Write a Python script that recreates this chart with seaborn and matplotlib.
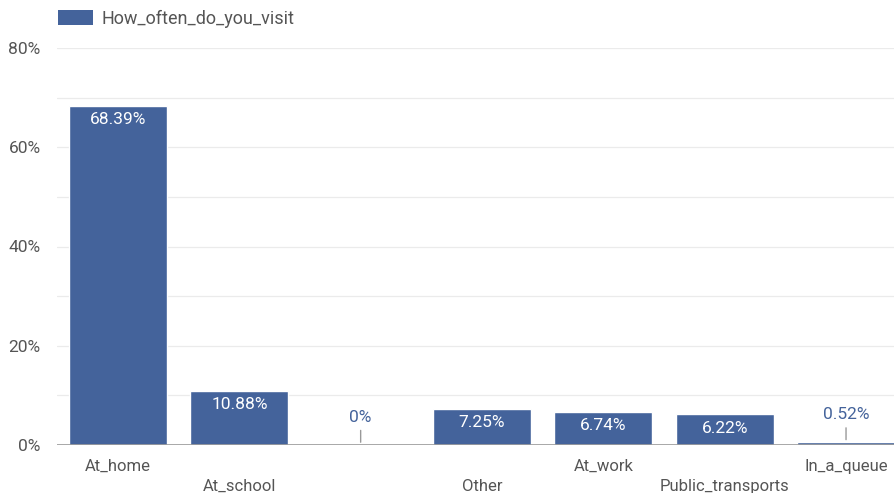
import matplotlib
matplotlib.use("Agg")
import matplotlib.pyplot as plt
import seaborn as sns
import pandas as pd
from matplotlib.patches import Patch

categories = ["At_home", "At_school", "", "Other", "At_work", "Public_transports", "In_a_queue"]
values = [68.39, 10.88, 0.0, 7.25, 6.74, 6.22, 0.52]
value_labels = ["68.39%", "10.88%", "0%", "7.25%", "6.74%", "6.22%", "0.52%"]
series_name = "How_often_do_you_visit"
yticks = [0, 20, 40, 60, 80]

sns.set_theme(style="white")
plt.rcParams['font.family'] = ['Roboto', 'DejaVu Sans']

BAR = "#44639b"
TXT = "#555555"

df = pd.DataFrame({"cat": [f"c{i}" for i in range(len(categories))], "val": values})

fig = plt.figure(figsize=(8.95, 4.93), dpi=100)
W, H = 895, 493
ax = fig.add_axes([57.3 / W, (H - 445) / H, (906.7 - 57.3) / W, (445 - 48) / H])

sns.barplot(data=df, x="cat", y="val", color=BAR, saturation=1, width=0.81, ax=ax, zorder=3)

ax.set_ylim(0, 80)
ax.set_xlim(-0.5, 6.5)
for y in range(10, 81, 10):
    ax.axhline(y, color="#ebebeb", lw=0.9, zorder=1)
ax.axhline(0, color="#9a9a9a", lw=1.2, zorder=4)

ax.set_yticks(yticks)
ax.set_yticklabels([f"{t}%" for t in yticks], color=TXT, fontsize=12.5)
ax.set_xticks(range(len(categories)))
ax.set_xticklabels([("\n" + c) if i % 2 == 1 else c for i, c in enumerate(categories)],
                   color=TXT, fontsize=12, linespacing=1.42)
ax.tick_params(axis="y", length=0, pad=12)
ax.tick_params(axis="x", length=0, pad=10)
ax.set_xlabel("")
ax.set_ylabel("")
for s in ax.spines.values():
    s.set_visible(False)

for i, (v, lab) in enumerate(zip(values, value_labels)):
    if v > 3:
        ax.annotate(lab, (i, v), xytext=(0, -10), textcoords="offset points",
                    ha="center", va="center", color="white", fontsize=12.5, zorder=5)
    else:
        ax.annotate("", (i, v), xytext=(0, 12.5), textcoords="offset points",
                    arrowprops=dict(arrowstyle="-", color="#999999", lw=1), zorder=5)
        ax.annotate(lab, (i, v), xytext=(0, 20), textcoords="offset points",
                    ha="center", va="center", color=BAR, fontsize=12.5, zorder=5)

handle = Patch(facecolor=BAR, edgecolor="none")
fig.legend([handle], [series_name], loc="upper left", bbox_to_anchor=(58 / W, 1 - 10 / H),
           frameon=False, fontsize=13, handlelength=1.96, handleheight=0.92,
           handletextpad=0.46, labelcolor=TXT, borderaxespad=0, borderpad=0)

fig.savefig("out.png", dpi=100)
